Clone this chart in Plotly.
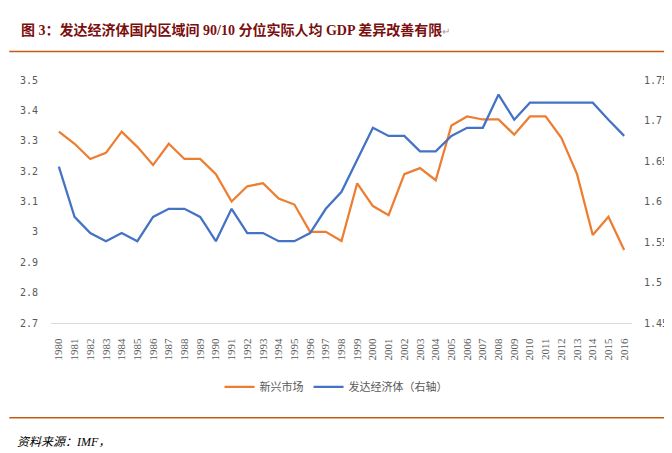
import plotly.graph_objects as go

years = [str(y) for y in range(1980, 2017)]
emerging = [3.33, 3.29, 3.24, 3.26, 3.33, 3.28, 3.22, 3.29, 3.24, 3.24,
            3.19, 3.10, 3.15, 3.16, 3.11, 3.09, 3.00, 3.00, 2.97, 3.16,
            3.085, 3.055, 3.19, 3.21, 3.17, 3.35, 3.38, 3.37, 3.37, 3.32,
            3.38, 3.38, 3.31, 3.19, 2.99, 3.05, 2.94]
developed = [1.643, 1.581, 1.561, 1.551, 1.561, 1.551, 1.581, 1.591, 1.591, 1.581,
             1.551, 1.591, 1.561, 1.561, 1.551, 1.551, 1.561, 1.591, 1.612, 1.652,
             1.691, 1.681, 1.681, 1.662, 1.662, 1.681, 1.691, 1.691, 1.732, 1.701,
             1.722, 1.722, 1.722, 1.722, 1.722, 1.701, 1.681]
left_ticks = [2.7, 2.8, 2.9, 3.0, 3.1, 3.2, 3.3, 3.4, 3.5]
left_text = ["2.7", "2.8", "2.9", "3", "3.1", "3.2", "3.3", "3.4", "3.5"]
right_ticks = [1.45, 1.5, 1.55, 1.6, 1.65, 1.7, 1.75]
right_text = ["1.45", "1.5", "1.55", "1.6", "1.65", "1.7", "1.75"]

title = "图 3：发达经济体国内区域间 90/10 分位实际人均 GDP 差异改善有限"
source = "资料来源：IMF，"
name1 = "新兴市场"
name2 = "发达经济体（右轴）"

W, H = 672, 453
L, R, T, B = 42, 627, 71.5, 315
pw, ph = R - L, B - T

def px(x):
    return (x - L) / pw

def py(y):
    return (B - y) / ph

fig = go.Figure()
fig.add_trace(go.Scatter(x=years, y=emerging, name=name1, mode="lines",
                         line=dict(color="#ED7D31", width=2.25)))
fig.add_trace(go.Scatter(x=years, y=developed, name=name2, mode="lines", yaxis="y2",
                         line=dict(color="#4472C4", width=2.25)))

fig.update_layout(
    width=W, height=H,
    margin=dict(l=L, r=W - R, t=T, b=H - B, pad=0),
    paper_bgcolor="white", plot_bgcolor="white",
    showlegend=True,
    legend=dict(orientation="h", x=px(329), xanchor="center", y=py(379), yanchor="middle",
                font=dict(family="Noto Sans CJK SC", size=11, color="#595959"),
                itemwidth=30, tracegroupgap=0, bgcolor="rgba(0,0,0,0)"),
    xaxis=dict(type="category", range=[-0.5, 36.5], showgrid=False, zeroline=False,
               showline=True, linecolor="#D9D9D9", linewidth=1, ticks="",
               tickangle=-90, ticklabelstandoff=10,
               tickfont=dict(family="Liberation Serif", size=11, color="#595959")),
    yaxis=dict(range=[2.7, 3.5], tickvals=left_ticks, ticktext=left_text,
               showgrid=False, zeroline=False, showline=False, ticks="",
               ticklabelstandoff=12,
               tickfont=dict(family="DejaVu Sans Mono", size=10, color="#595959")),
    yaxis2=dict(range=[1.45, 1.75], tickvals=right_ticks, ticktext=right_text,
                overlaying="y", side="right", showgrid=False, zeroline=False,
                showline=False, ticks="", ticklabelstandoff=11,
                tickfont=dict(family="DejaVu Sans Mono", size=10, color="#595959")),
)

fig.add_annotation(x=px(10), y=py(21), xref="paper", yref="paper", xanchor="left",
                   yanchor="middle", showarrow=False,
                   text="<b>" + title + "</b><span style='color:#A0A0A0;font-size:10px'>↵</span>",
                   font=dict(family="Liberation Serif, Noto Sans CJK SC", size=14, color="#7A0F0F"))
fig.add_annotation(x=px(6), y=py(434), xref="paper", yref="paper", xanchor="left",
                   yanchor="middle", showarrow=False,
                   text="<i>" + source + "</i>",
                   font=dict(family="Liberation Serif, Noto Sans CJK SC", size=12, color="#000000"))

fig.add_shape(type="line", xref="paper", yref="paper", x0=px(0), x1=px(W),
              y0=py(43), y1=py(43), line=dict(color="#C55A11", width=1.5))
fig.add_shape(type="line", xref="paper", yref="paper", x0=px(0), x1=px(W),
              y0=py(410), y1=py(410), line=dict(color="#C55A11", width=1.5))

fig.write_html("out.html")
